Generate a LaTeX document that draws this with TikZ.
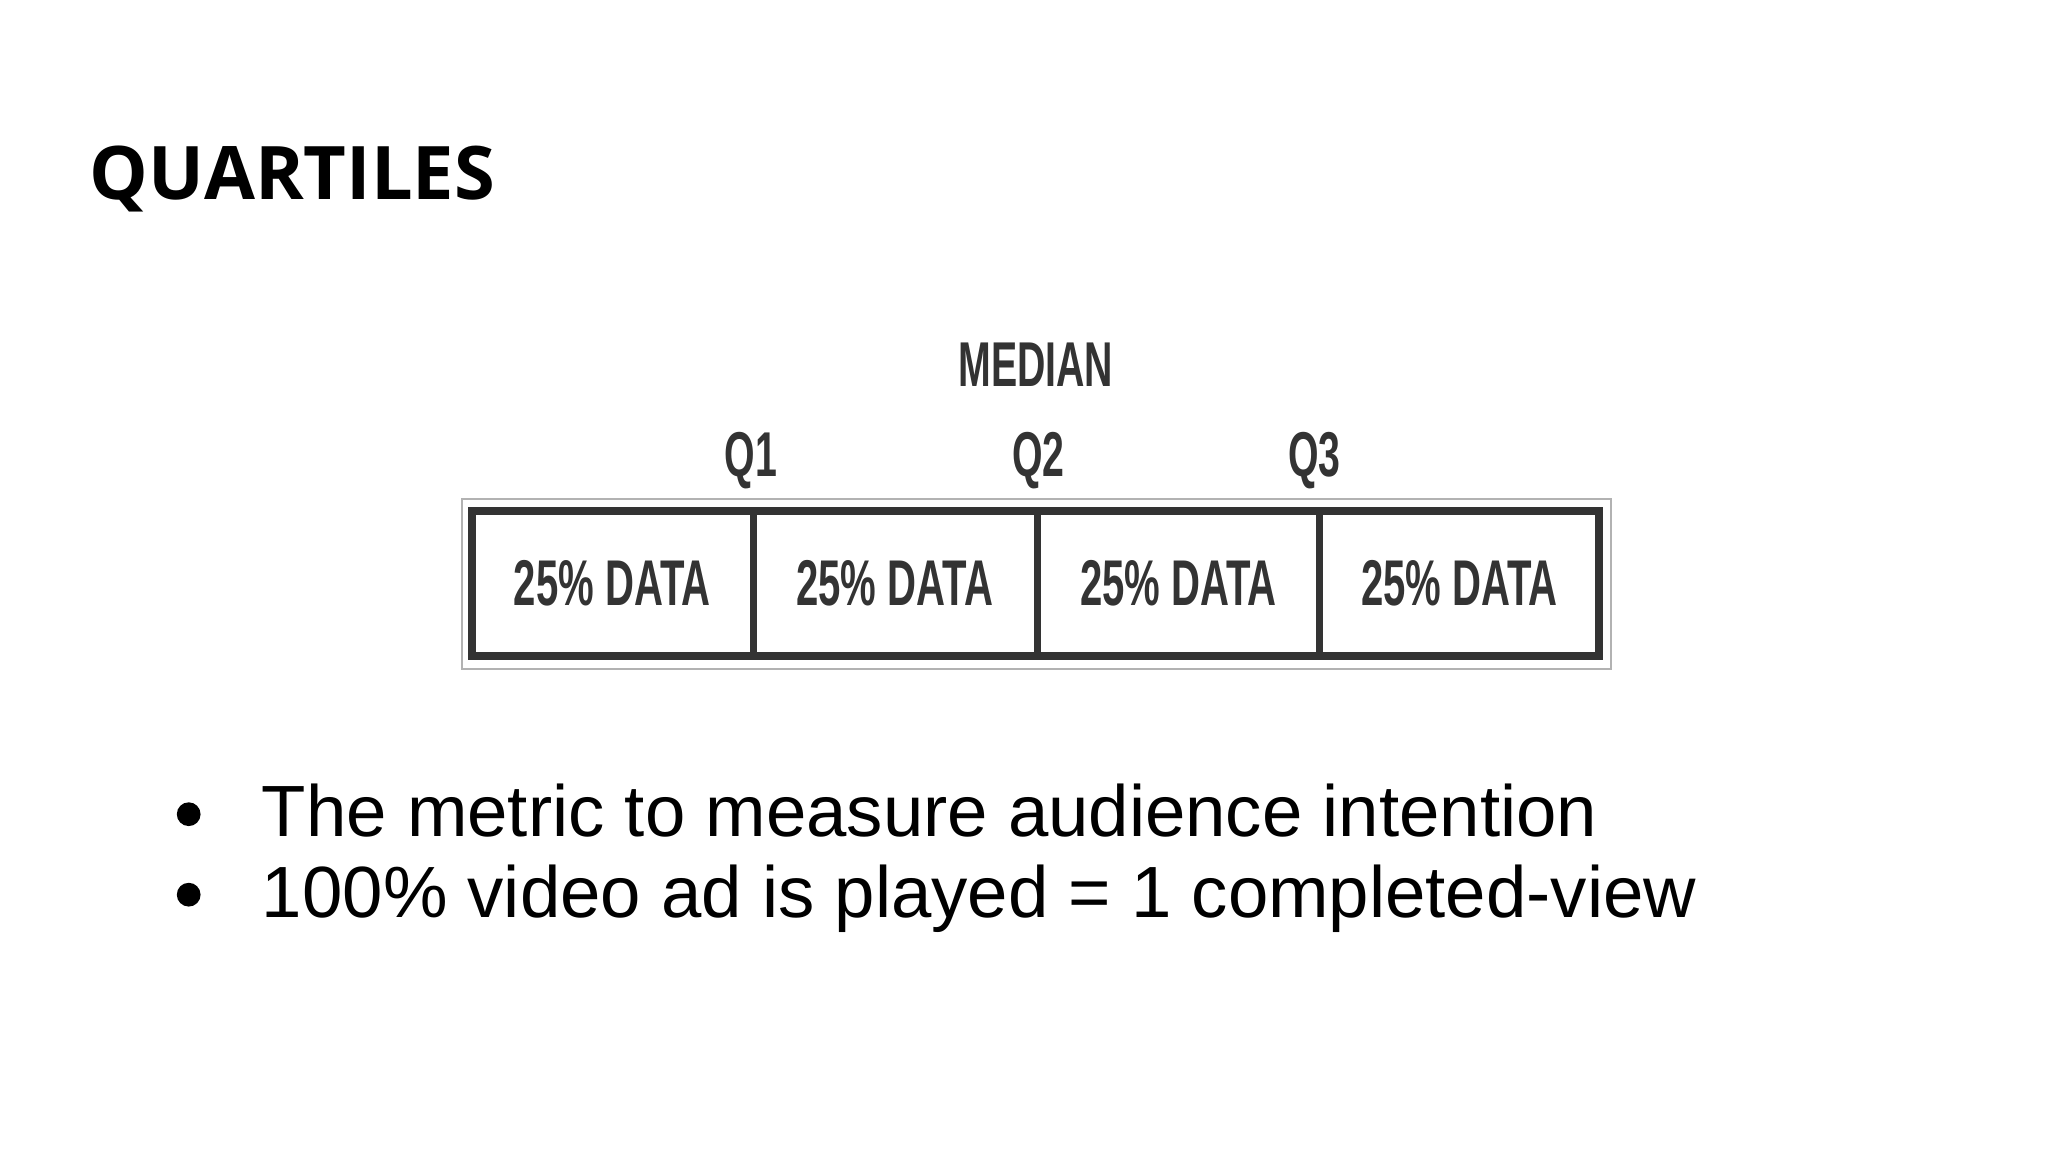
\documentclass[tikz,border=0pt]{standalone}
\usepackage{fontspec}
\usepackage{graphicx}
\setmainfont{Liberation Sans}
\newfontfamily\titlefont{Open Sans}
\definecolor{dk}{HTML}{333333}
\tikzset{
 cell/.style={anchor=center,text=dk,font=\fontsize{49}{49}\selectfont\bfseries},
 qlab/.style={anchor=base,text=dk,font=\fontsize{48}{48}\selectfont\bfseries},
 bul/.style={anchor=base west,font=\fontsize{55}{55}\selectfont}
}
\newcommand{\cond}[1]{\scalebox{0.62}[1]{#1}}
\begin{document}
\begin{tikzpicture}[x=1pt,y=-1pt]
\useasboundingbox[fill=white] (0,0) rectangle (1552,873);
\node[anchor=base west,inner sep=0,font=\fontsize{56}{56}\selectfont\titlefont\bfseries] (title) at (68,151) {QUARTILES};
\draw[gray!60,line width=1.2] (350,378) rectangle (1221,507);
\draw[dk,line width=6] (358,387) rectangle (1212,497);
\foreach \x/\n in {571/a,786/b,1000/c}{\draw[dk,line width=5] (\x,387) coordinate (t\n) -- (\x,497) coordinate (b\n);}
\foreach \x/\n in {464/1,678/2,893/3,1106/4}{\node[cell] (c\n) at (\x,442) {\cond{25\% DATA}};}
\node[qlab] (q1) at (569,361) {\cond{Q1}};
\node[qlab] (q2) at (787,361) {\cond{Q2}};
\node[qlab] (q3) at (996,361) {\cond{Q3}};
\node[qlab] (med) at (785,293) {\cond{MEDIAN}};
\node[bul] (b1) at (195,634) {The metric to measure audience intention};
\node[bul] (b2) at (195,695) {100\% video ad is played = 1 completed-view};
\fill (143,617) circle (9) coordinate (d1);
\fill (143,678) circle (9) coordinate (d2);
\end{tikzpicture}
\end{document}
